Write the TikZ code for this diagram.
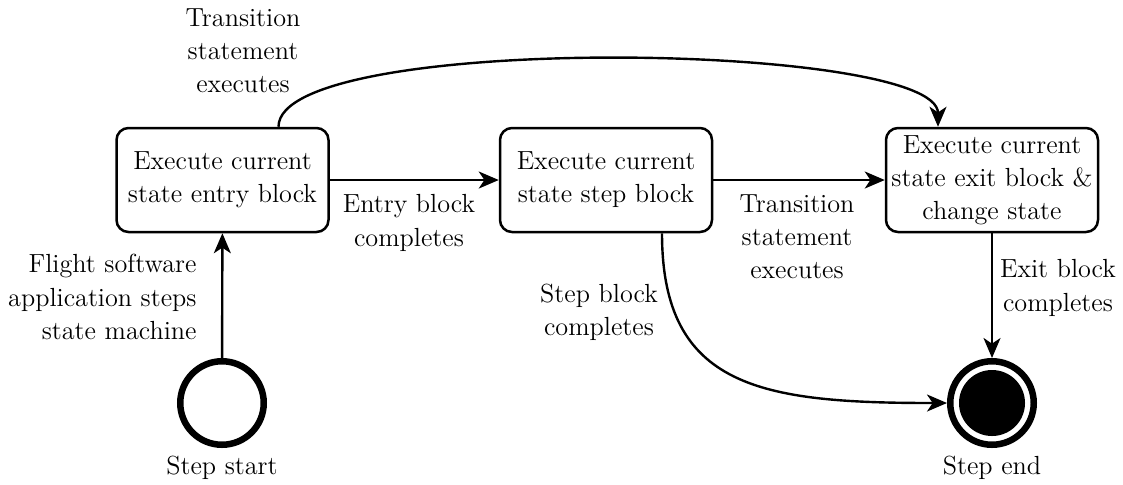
\documentclass[tikz,border=0pt]{standalone}
\usetikzlibrary{arrows.meta}
\begin{document}
\begin{tikzpicture}[x=0.5pt,y=-0.5pt,
  txt/.style={font=\fontsize{13.1}{16.6}\selectfont, align=center, inner sep=0pt},
  statebox/.style={txt, draw, line width=1.25pt, rounded corners=6pt, minimum width=106pt, minimum height=52pt},
  startstate/.style={circle, draw, line width=3.25pt, minimum size=41.75pt, inner sep=0pt},
  enddisk/.style={circle, fill=black, minimum size=33pt, inner sep=0pt},
  conn/.style={line width=1.2pt, -{Stealth[length=10pt,width=8.5pt,inset=2.8pt]}}]
\useasboundingbox (0,0) rectangle (1123,484);
% states
\node[statebox] (b1) at (222.5,180) {Execute current\\state entry block};
\node[statebox] (b2) at (606,180) {Execute current\\state step block};
\node[statebox] (b3) at (992,180) {Execute current\\state exit block \&\\change state};
\node[startstate] (start) at (222,403) {};
\node[startstate] (end) at (992,403) {};
\node[enddisk] (endin) at (992,403) {};
% labels
\node[txt] (lstart) at (222,468) {Step start};
\node[txt] (lend) at (992,468) {Step end};
\node[txt, align=right, anchor=east] (lflight) at (197,297) {Flight software\\application steps\\state machine};
\node[txt] (ltop) at (243,51) {Transition\\statement\\executes};
\node[txt] (lentry) at (409,223) {Entry block\\completes};
\node[txt] (ltrans) at (797,237) {Transition\\statement\\executes};
\node[txt] (lstep) at (599,312) {Step block\\completes};
\node[txt] (lexit) at (1058,288) {Exit block\\completes};
% connectors
\draw[conn] (start) -- (b1);
\draw[conn] (b1) -- (b2);
\draw[conn] (b2) -- (b3);
\draw[conn] (b3) -- (end);
\draw[conn] ([xshift=28pt]b1.north) .. controls +(0,-95) and +(0,-85) .. ([xshift=-27pt]b3.north);
\draw[conn] ([xshift=28pt]b2.south) .. controls +(0,155) and +(-185,0) .. (end.west);
\end{tikzpicture}
\end{document}
